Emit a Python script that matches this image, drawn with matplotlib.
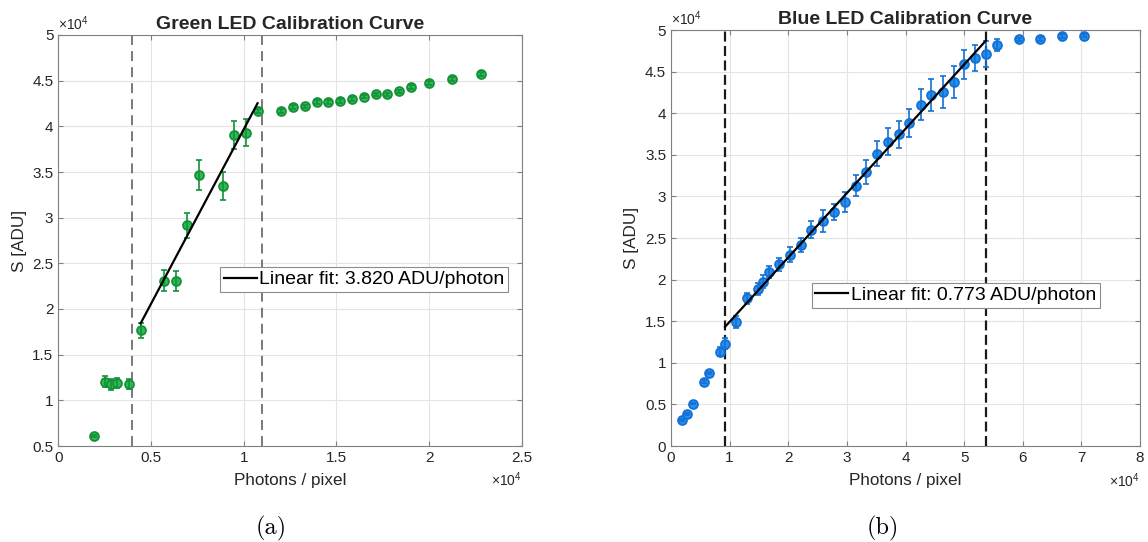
import matplotlib
matplotlib.use("Agg")
import matplotlib.pyplot as plt
from matplotlib.ticker import FuncFormatter, MultipleLocator

plt.rcParams['font.family'] = ['Liberation Sans', 'DejaVu Sans']
plt.rcParams['mathtext.fontset'] = 'custom'
plt.rcParams['mathtext.rm'] = 'Liberation Sans'
plt.rcParams['mathtext.it'] = 'Liberation Sans:italic'

# ---------------- data (units of 1e4) ----------------
green_x = [0.19, 0.254, 0.286, 0.315, 0.38, 0.444, 0.568, 0.635, 0.696, 0.761,
           0.887, 0.949, 1.014, 1.075, 1.202, 1.265, 1.331, 1.394, 1.456, 1.519,
           1.583, 1.647, 1.712, 1.773, 1.838, 1.901, 1.998, 2.122, 2.278]
green_y = [0.608, 1.205, 1.177, 1.19, 1.174, 1.766, 2.309, 2.31, 2.915, 3.463,
           3.35, 3.905, 3.93, 4.168, 4.168, 4.215, 4.219, 4.263, 4.263, 4.28,
           4.30, 4.325, 4.35, 4.35, 4.383, 4.43, 4.474, 4.52, 4.573]
green_err = [0.01, 0.06, 0.06, 0.06, 0.055, 0.085, 0.115, 0.11, 0.14, 0.165,
             0.155, 0.15, 0.145, 0.02, 0.02, 0.02, 0.02, 0.02, 0.02, 0.02,
             0.02, 0.02, 0.02, 0.02, 0.02, 0.02, 0.02, 0.02, 0.02]
green_bounds = [0.4, 1.1]
green_fit_range = [0.444, 1.075]
green_slope = 3.820
green_intercept = 0.146
green_label = "Linear fit: 3.820 ADU/photon"

blue_x = [0.182, 0.273, 0.375, 0.557, 0.648, 0.830, 0.922, 1.115, 1.291, 1.485,
          1.570, 1.667, 1.849, 2.031, 2.218, 2.395, 2.588, 2.787, 2.964, 3.152,
          3.328, 3.515, 3.703, 3.885, 4.067, 4.261, 4.442, 4.636, 4.824, 5.005,
          5.188, 5.37, 5.558, 5.939, 6.302, 6.672, 7.048]
blue_y = [0.309, 0.381, 0.509, 0.773, 0.877, 1.134, 1.23, 1.487, 1.775, 1.887,
          1.975, 2.088, 2.184, 2.30, 2.42, 2.60, 2.708, 2.812, 2.933, 3.129,
          3.293, 3.513, 3.657, 3.746, 3.886, 4.102, 4.219, 4.255, 4.375, 4.587,
          4.667, 4.708, 4.824, 4.888, 4.892, 4.928, 4.932]
blue_err = [0.01, 0.01, 0.01, 0.015, 0.015, 0.05, 0.064, 0.07, 0.064, 0.07,
            0.075, 0.07, 0.078, 0.086, 0.086, 0.1, 0.134, 0.1, 0.116, 0.13,
            0.14, 0.15, 0.16, 0.166, 0.17, 0.188, 0.19, 0.19, 0.19, 0.17,
            0.156, 0.154, 0.072, 0.02, 0.02, 0.02, 0.02]
blue_bounds = [0.922, 5.37]
blue_fit_range = [0.922, 5.37]
blue_slope = 0.773
blue_intercept = 0.72
blue_label = "Linear fit: 0.773 ADU/photon"

W, H = 1148, 542
fig = plt.figure(figsize=(W / 100, H / 100), dpi=100)

def px_axes(x0, x1, ytop, ybot):
    return fig.add_axes([x0 / W, 1 - ybot / H, (x1 - x0) / W, (ybot - ytop) / H])

fmt = FuncFormatter(lambda v, p: ('%g' % round(v, 3)))
SPINE = '#808080'
TXT = '#262626'

def style(ax, xlim, ylim, xstep, ystep):
    ax.set_xlim(*xlim)
    ax.set_ylim(*ylim)
    ax.xaxis.set_major_locator(MultipleLocator(xstep))
    ax.yaxis.set_major_locator(MultipleLocator(ystep))
    ax.xaxis.set_major_formatter(fmt)
    ax.yaxis.set_major_formatter(fmt)
    ax.grid(True, color='#e4e4e4', lw=0.8)
    ax.set_axisbelow(True)
    for s in ax.spines.values():
        s.set_color(SPINE)
        s.set_linewidth(0.8)
    ax.tick_params(direction='in', length=3.5, width=0.8, color=SPINE,
                   labelsize=11, labelcolor=TXT, top=True, right=True, pad=3.5)
    ax.set_ylabel('S [ADU]', fontsize=12.3, color=TXT, labelpad=4)
    ax.set_xlabel('Photons / pixel', fontsize=12.3, color=TXT, labelpad=6)
    ax.text(0.0, 1.005, r'$\times10^{4}$', transform=ax.transAxes, ha='left',
            va='bottom', fontsize=10, color=TXT)
    ax.text(1.0, -0.083, r'$\times10^{4}$', transform=ax.transAxes, ha='right',
            va='center', fontsize=10, color=TXT)

def draw(ax, xs, ys, es, fill, edge, bounds, bcol, blw, bdash, frange,
         slope, icpt, label, leg_anchor):
    for b in bounds:
        ax.axvline(b, color=bcol, lw=blw, linestyle=(0, bdash), zorder=2)
    ax.plot(xs, ys, 'o', ms=6.4, mfc=fill, mec=edge, mew=1.3, zorder=3,
            linestyle='none')
    ax.errorbar(xs, ys, yerr=es, fmt='none', ecolor=edge, elinewidth=1.2,
                capsize=2.4, capthick=1.2, zorder=4)
    fx = [frange[0], frange[1]]
    fy = [slope * v + icpt for v in fx]
    ln, = ax.plot(fx, fy, color='black', lw=1.6, zorder=5, label=label)
    leg = ax.legend(handles=[ln], loc='center left', bbox_to_anchor=leg_anchor,
                    borderaxespad=0, fontsize=14, frameon=True, fancybox=False,
                    edgecolor='#8c8c8c', framealpha=1, borderpad=0.18,
                    handlelength=1.7, handletextpad=0.15)
    leg.get_frame().set_linewidth(0.8)
    leg.set_zorder(6)

# left: Green
axL = px_axes(58.3, 521.7, 35, 446)
style(axL, (0, 2.5), (0.5, 5), 0.5, 0.5)
draw(axL, green_x, green_y, green_err, '#33b84f', '#13913a', green_bounds,
     '#555555', 1.1, (6.5, 4), green_fit_range, green_slope, green_intercept,
     green_label, (0.349, 0.405))
axL.set_title('Green LED Calibration Curve', fontsize=14, fontweight='bold',
              color=TXT, pad=4)

# right: Blue
axR = px_axes(671, 1140, 30, 446)
style(axR, (0, 8), (0, 5), 1, 0.5)
draw(axR, blue_x, blue_y, blue_err, '#2390f0', '#1470d2', blue_bounds,
     '#1a1a1a', 1.6, (4.5, 2), blue_fit_range, blue_slope, blue_intercept,
     blue_label, (0.30, 0.362))
axR.set_title('Blue LED Calibration Curve', fontsize=14, fontweight='bold',
              color=TXT, pad=4)

fig.text(271 / W, 1 - 528 / H, '(a)', family='cmr10', fontsize=17.5,
         ha='center', va='center', color='black')
fig.text(883 / W, 1 - 528 / H, '(b)', family='cmr10', fontsize=17.5,
         ha='center', va='center', color='black')

fig.savefig('out.png', dpi=100)
